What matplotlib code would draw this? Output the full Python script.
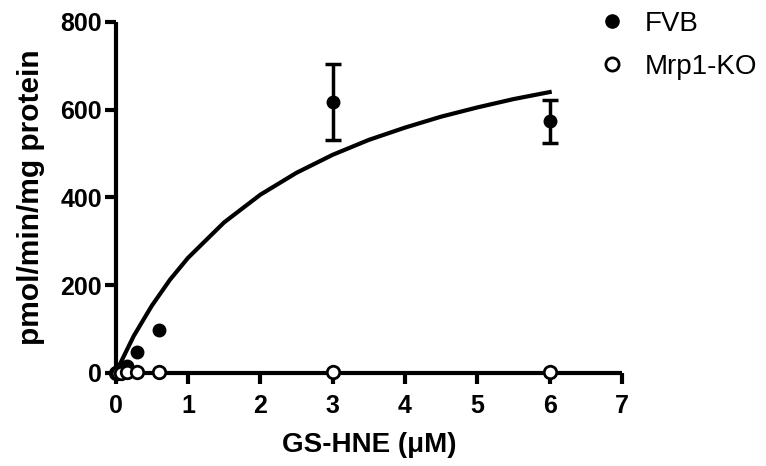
import matplotlib
matplotlib.use("Agg")
import matplotlib.pyplot as plt
from matplotlib.lines import Line2D

plt.rcParams['font.family'] = ['Liberation Sans', 'DejaVu Sans']

# measured data
conc = [0, 0.03, 0.075, 0.15, 0.3, 0.6, 3, 6]
fvb = [0, 3, 8, 15, 47, 97, 618, 573]
fvb_err = [0, 0, 0, 0, 0, 0, 87, 49]
ko = [0, 0, 0, 1, 1, 1, 1, 1]

# fitted curve
fit_x = [0, 0.25, 0.5, 0.75, 1, 1.5, 2, 2.5, 3, 3.5, 4, 4.5, 5, 5.5, 6]
fit_y = [0, 84, 153, 212, 262, 343, 406, 456, 497, 531, 559, 584, 605, 624, 640]

fig = plt.figure(figsize=(7.66, 4.66), dpi=100)
ax = fig.add_axes([0.151, 0.2, 0.661, 0.753])

ax.plot(fit_x, fit_y, color='black', lw=3, clip_on=False, zorder=2)

# error bars only where there is an SEM
ex = [c for c, e in zip(conc, fvb_err) if e > 0]
ey = [v for v, e in zip(fvb, fvb_err) if e > 0]
ee = [e for e in fvb_err if e > 0]
ax.errorbar(ex, ey, yerr=ee, fmt='none', ecolor='black',
            elinewidth=2.5, capsize=6, capthick=2.5, clip_on=False, zorder=3)
ax.plot(conc, fvb, 'o', color='black', ms=9, clip_on=False, zorder=3)
ax.plot(conc, ko, 'o', mfc='white', mec='black', mew=2, ms=9,
        clip_on=False, zorder=4)

ax.set_xlim(0, 7)
ax.set_ylim(0, 800)
ax.set_xticks(range(0, 8))
ax.set_yticks([0, 200, 400, 600, 800])

for s in ['top', 'right']:
    ax.spines[s].set_visible(False)
for s in ['left', 'bottom']:
    ax.spines[s].set_linewidth(3)
    ax.spines[s].set_capstyle('butt')

ax.tick_params(width=3, length=8, labelsize=18)
ax.tick_params(axis='x', pad=7)
ax.tick_params(axis='y', pad=2)
for lbl in ax.get_xticklabels() + ax.get_yticklabels():
    lbl.set_fontweight('bold')

ax.set_xlabel('GS-HNE (\u03bcM)', fontsize=20, fontweight='bold', labelpad=10)
ax.set_ylabel('pmol/min/mg protein', fontsize=21.5, fontweight='bold', labelpad=11)

handles = [
    Line2D([], [], ls='none', marker='o', color='black', ms=9.5),
    Line2D([], [], ls='none', marker='o', mfc='white', mec='black', mew=2, ms=9.5),
]
fig.legend(handles, ['FVB', 'Mrp1-KO'], loc='upper left',
           bbox_to_anchor=(0.781, 0.976), frameon=False, fontsize=20,
           borderpad=0, borderaxespad=0, handlelength=1.0,
           handletextpad=0.68, labelspacing=0.6)

fig.savefig('out.png', dpi=100)
